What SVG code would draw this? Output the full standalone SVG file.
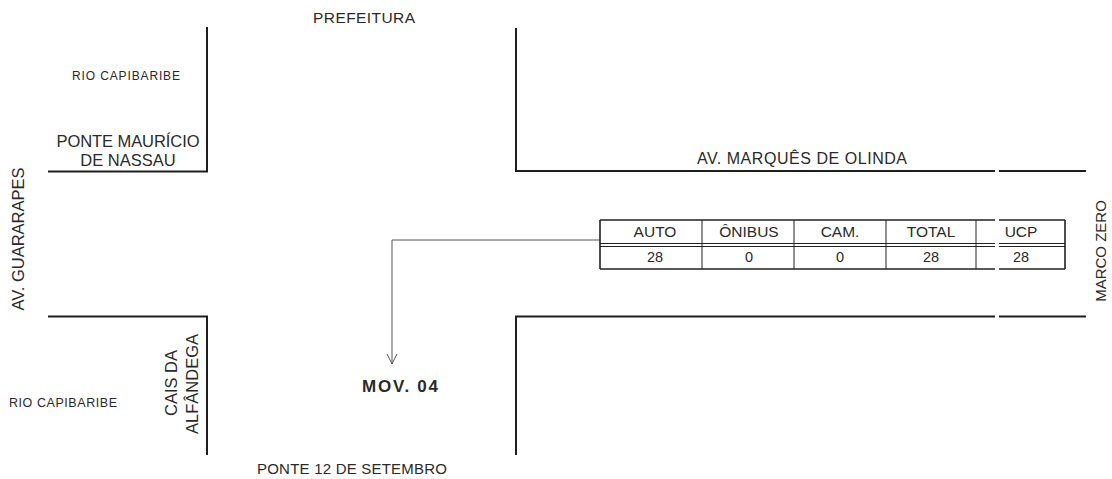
<svg xmlns="http://www.w3.org/2000/svg" width="1112" height="479" viewBox="0 0 1112 479">
<defs>
<style>
text{font-family:"Liberation Sans",Arial,sans-serif;fill:#2a2a2a;}
.road{fill:none;stroke:#1e1e1e;stroke-width:2;}
.tbl{fill:none;stroke:#222;stroke-width:1.6;}
.thin{fill:none;stroke:#222;stroke-width:1;}
.conn{fill:none;stroke:#555;stroke-width:1;}
.h{font-size:15.5px;text-anchor:middle;}
.d{font-size:14.5px;text-anchor:middle;}
</style>
<marker id="arr" markerWidth="12" markerHeight="12" refX="6" refY="11" orient="0" markerUnits="userSpaceOnUse" viewBox="0 0 12 12">
<path d="M1,1 L6,11 L11,1" fill="none" stroke="#555" stroke-width="1"/>
</marker>
</defs>
<rect width="1112" height="479" fill="#ffffff"/>
<g id="roads">
<path class="road" d="M207,27 V171.5 H48"/>
<path class="road" d="M516,28 V171 H995 M999,171 H1086"/>
<path class="road" d="M48,316.5 H207 V455"/>
<path class="road" d="M516,455 V316.5 H995 M999,316.5 H1086"/>
</g>
<g id="labels">
<text x="364" y="22.7" font-size="15.5" text-anchor="middle" textLength="102">PREFEITURA</text>
<text x="126" y="79.5" font-size="12" text-anchor="middle" textLength="108">RIO CAPIBARIBE</text>
<text x="128" y="146.5" font-size="16.5" text-anchor="middle" textLength="143">PONTE MAURÍCIO</text>
<text x="128" y="165.5" font-size="16.5" text-anchor="middle">DE NASSAU</text>
<text transform="translate(24,239) rotate(-90)" font-size="16.5" text-anchor="middle">AV. GUARARAPES</text>
<text x="802" y="164" font-size="16" text-anchor="middle" textLength="210">AV. MARQUÊS DE OLINDA</text>
<text transform="translate(1106,251) rotate(-90)" font-size="15" text-anchor="middle">MARCO ZERO</text>
<text x="63" y="406.5" font-size="12.5" text-anchor="middle" textLength="108">RIO CAPIBARIBE</text>
<text transform="translate(177,383) rotate(-90)" font-size="16.5" text-anchor="middle">CAIS DA</text>
<text transform="translate(198,384) rotate(-90)" font-size="16.5" text-anchor="middle">ALFÂNDEGA</text>
<text x="352" y="474" font-size="15" text-anchor="middle" textLength="190">PONTE 12 DE SETEMBRO</text>
</g>
<g id="connectors">
<path class="conn" d="M600,240 H392 V364" marker-end="url(#arr)"/>
</g>
<g id="mov04">
<text x="400" y="391.5" font-size="17" font-weight="bold" text-anchor="middle" textLength="76">MOV. 04</text>
</g>
<g id="table">
<path class="tbl" d="M600,220 H995 M999,220 H1065 M600,269 H995 M999,269 H1065 M600,220 V269 M1065,220 V269"/>
<path class="thin" d="M600,243.5 H995 M999,243.5 H1065 M600,246.5 H995 M999,246.5 H1065"/>
<path class="thin" d="M702,220 V269 M794,220 V269 M886,220 V269 M976,220 V269"/>
<text class="h" x="655" y="237">AUTO</text>
<text class="h" x="749" y="237">ÔNIBUS</text>
<text class="h" x="840" y="237">CAM.</text>
<text class="h" x="931" y="237">TOTAL</text>
<text class="h" x="1021" y="237">UCP</text>
<text class="d" x="655" y="262">28</text>
<text class="d" x="749" y="262">0</text>
<text class="d" x="840" y="262">0</text>
<text class="d" x="931" y="262">28</text>
<text class="d" x="1021" y="262">28</text>
</g>
</svg>
